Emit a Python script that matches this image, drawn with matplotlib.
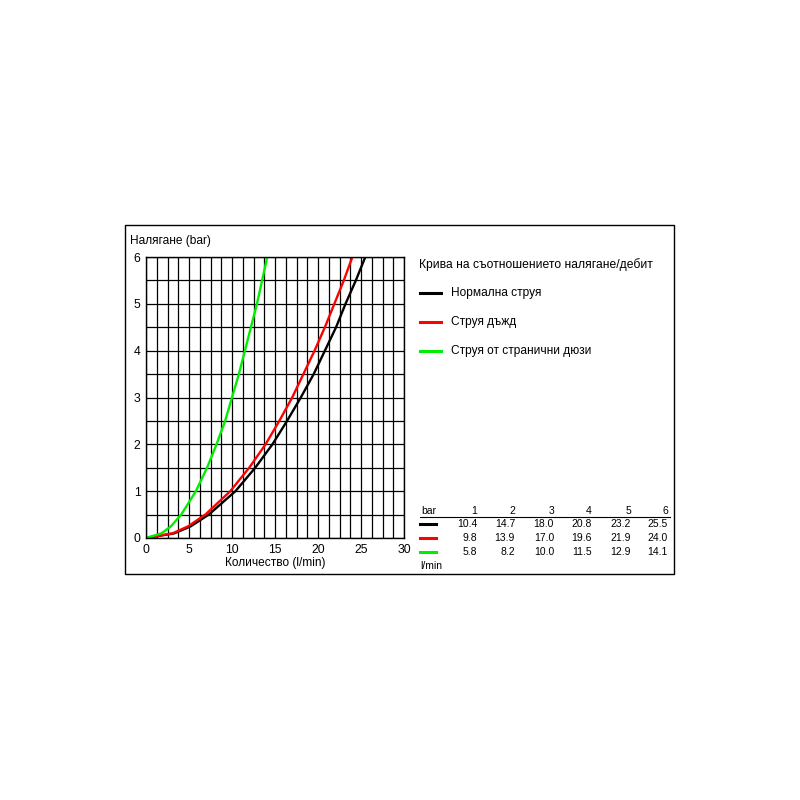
import matplotlib as mpl
mpl.use("Agg")
import matplotlib.pyplot as plt
from matplotlib.lines import Line2D
from matplotlib.patches import Rectangle

plt.rcParams["font.family"] = ["Liberation Sans", "DejaVu Sans"]

# pressure (bar) vs flow (l/min)
pressure = [0, 0.1, 0.25, 0.5, 1, 1.5, 2, 2.5, 3, 3.5, 4, 4.5, 5, 5.5, 6]
flow_normal = [0, 3.3, 5.2, 7.3, 10.4, 12.7, 14.7, 16.4, 18.0, 19.5, 20.8, 22.1, 23.2, 24.4, 25.5]
flow_rain = [0, 3.1, 4.9, 6.9, 9.8, 12.0, 13.9, 15.5, 17.0, 18.3, 19.6, 20.8, 21.9, 23.0, 24.0]
flow_side = [0, 1.8, 2.9, 4.1, 5.8, 7.1, 8.2, 9.2, 10.0, 10.8, 11.5, 12.2, 12.9, 13.5, 14.1]

series_names = ["Нормална струя", "Струя дъжд", "Струя от странични дюзи"]
series_colors = ["#000000", "#ff0000", "#00ee00"]

# table
table_bar = [1, 2, 3, 4, 5, 6]
table_rows = [
    ["10.4", "14.7", "18.0", "20.8", "23.2", "25.5"],
    ["9.8", "13.9", "17.0", "19.6", "21.9", "24.0"],
    ["5.8", "8.2", "10.0", "11.5", "12.9", "14.1"],
]

W = H = 800.0


def fx(px):
    return px / W


def fy(py):
    return 1 - py / H


fig = plt.figure(figsize=(8, 8), dpi=100)
fig.patch.set_facecolor("white")

# outer frame
fig.add_artist(Rectangle((fx(125), fy(574)), (674 - 125) / W, (574 - 225) / H,
                         transform=fig.transFigure, fill=False, edgecolor="black", lw=1))

ax = fig.add_axes([fx(146), fy(538), (404 - 146) / W, (538 - 257) / H])
ax.set_xlim(0, 30)
ax.set_ylim(0, 6)
ax.set_xticks(range(0, 31, 5))
ax.set_yticks(range(0, 7))
ax.set_xticks([i * 1.25 for i in range(25)], minor=True)
ax.set_yticks([i * 0.5 for i in range(13)], minor=True)
ax.grid(which="both", color="black", lw=0.9)
ax.tick_params(which="both", length=0, labelsize=8.8, pad=4)
for s in ax.spines.values():
    s.set_linewidth(1)
ax.set_axisbelow(True)

for flow, col in zip([flow_normal, flow_rain, flow_side], series_colors):
    ax.plot(flow, pressure, color=col, lw=1.7, solid_capstyle="round")

ax.set_xlabel("Количество (l/min)", fontsize=8.6, labelpad=1)
fig.text(fx(130), fy(241), "Налягане (bar)", fontsize=8.6, va="center", ha="left")

# legend
fig.text(fx(419), fy(265), "Крива на съотношението налягане/дебит", fontsize=8.7, va="center")
for i, (name, col) in enumerate(zip(series_names, series_colors)):
    y = 293 + i * 29
    fig.add_artist(Line2D([fx(420), fx(441)], [fy(y), fy(y)], color=col, lw=2.2,
                          transform=fig.transFigure))
    fig.text(fx(451), fy(y), name, fontsize=8.6, va="center")

# table
col_x = [477, 515, 554, 592, 631, 668]
fig.text(fx(421), fy(511), "bar", fontsize=7.5, va="center")
for b, x in zip(table_bar, col_x):
    fig.text(fx(x), fy(511), str(b), fontsize=7.5, va="center", ha="right")
fig.add_artist(Line2D([fx(420), fx(670)], [fy(517), fy(517)], color="black", lw=0.8,
                      transform=fig.transFigure))
for r, (row, col) in enumerate(zip(table_rows, series_colors)):
    y = 524 + r * 14
    fig.add_artist(Line2D([fx(420), fx(436)], [fy(y), fy(y)], color=col, lw=2.2,
                          transform=fig.transFigure))
    for v, x in zip(row, col_x):
        fig.text(fx(x), fy(y), v, fontsize=7.5, va="center", ha="right")
fig.text(fx(420), fy(566), "l/min", fontsize=7.5, va="center")

fig.savefig("out.png", dpi=100)
